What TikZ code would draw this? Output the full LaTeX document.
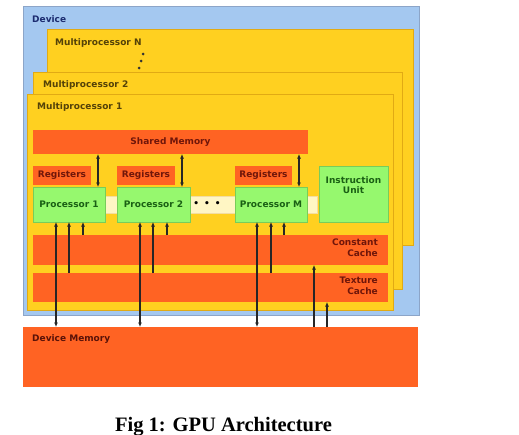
\documentclass[tikz,border=0pt]{standalone}
\usepackage{fontspec}
\setmainfont{Liberation Serif}
\newfontfamily\boxfont{DejaVu Sans}
\usetikzlibrary{positioning,arrows.meta}

\definecolor{devblue}{RGB}{164,200,240}
\definecolor{devline}{RGB}{140,165,200}
\definecolor{mpyellow}{RGB}{255,208,32}
\definecolor{mpline}{RGB}{225,170,20}
\definecolor{memorange}{RGB}{255,99,35}
\definecolor{procgreen}{RGB}{150,248,110}
\definecolor{procline}{RGB}{120,205,90}
\definecolor{striplight}{RGB}{255,246,196}
\definecolor{devtext}{RGB}{28,44,112}
\definecolor{mptext}{RGB}{84,66,8}
\definecolor{memtext}{RGB}{112,22,10}
\definecolor{proctext}{RGB}{26,96,20}

\tikzset{
  lbl/.style={inner sep=0pt, font=\boxfont\bfseries\fontsize{9}{10.5}\selectfont},
  area/.style={lbl, anchor=north west, outer sep=0pt, line width=0.6pt},
  devarea/.style={area, fill=devblue, draw=devline},
  mparea/.style={area, fill=mpyellow, draw=mpline},
  memarea/.style={area, fill=memorange, text=memtext},
  procarea/.style={area, fill=procgreen, draw=procline, text=proctext},
  link/.style={line width=1.1pt, draw=black!85, >={Latex[length=4.5pt,width=4pt]}}
}

\begin{document}
\begin{tikzpicture}[x=1pt,y=-1pt]
\useasboundingbox (0,0) rectangle (519,434);

\node[devarea, minimum width=396pt, minimum height=309pt] (dev) at (23,6) {};
\node[lbl, text=devtext, below right=9pt and 9pt of dev.north west] (devlbl) {Device};

\node[mparea, minimum width=366pt, minimum height=216pt] (mpn) at (47,29) {};
\node[lbl, text=mptext, below right=9pt and 8pt of mpn.north west] (mpnlbl) {Multiprocessor N};
\fill[black!80] (143,54) circle (1.5pt) (141,61) circle (1.5pt) (139,68) circle (1.5pt);

\node[mparea, minimum width=369pt, minimum height=217pt] (mptwo) at (33,72) {};
\node[lbl, text=mptext, below right=8pt and 10pt of mptwo.north west] (mptwolbl) {Multiprocessor 2};

\node[mparea, minimum width=366pt, minimum height=216pt] (mpone) at (27,94) {};
\node[lbl, text=mptext, below right=8pt and 10pt of mpone.north west] (mponelbl) {Multiprocessor 1};

\node[memarea, minimum width=275pt, minimum height=24pt] (shm) at (33,130) {Shared Memory};

\node[memarea, minimum width=58pt, minimum height=19pt] (reg1) at (33,166) {Registers};
\node[memarea, minimum width=58pt, minimum height=19pt] (reg2) at (117,166) {Registers};
\node[memarea, minimum width=57pt, minimum height=19pt] (regm) at (235,166) {Registers};

\node[area, fill=striplight, draw=mpline!40, minimum width=215pt, minimum height=17pt] (strip) at (102,196) {};
\node[lbl] (dots) at (207,204) {\textbullet\hspace{5pt}\textbullet\hspace{5pt}\textbullet};

\node[procarea, minimum width=72pt, minimum height=35pt] (proc1) at (33,187) {Processor 1};
\node[procarea, minimum width=73pt, minimum height=35pt] (proc2) at (117,187) {Processor 2};
\node[procarea, minimum width=72pt, minimum height=35pt] (procm) at (235,187) {Processor M};

\node[procarea, minimum width=69pt, minimum height=56pt] (instr) at (319,166) {};
\node[lbl, text=proctext, align=center, below=10pt of instr.north] (instrlbl) {Instruction\\Unit};

\node[memarea, minimum width=355pt, minimum height=30pt] (ccache) at (33,235) {};
\node[lbl, text=memtext, align=right, below left=4pt and 10pt of ccache.north east] (cclbl) {Constant\\Cache};

\node[memarea, minimum width=355pt, minimum height=29pt] (tcache) at (33,273) {};
\node[lbl, text=memtext, align=right, below left=4pt and 10pt of tcache.north east] (tclbl) {Texture\\Cache};

\node[memarea, minimum width=395pt, minimum height=60pt] (dmem) at (23,327) {};
\node[lbl, text=memtext!80!black, below right=7pt and 9pt of dmem.north west] (dmemlbl) {Device Memory};

\draw[link,<->] ([xshift=-7pt]proc1.north east) -- ([xshift=-7pt]proc1.north east |- shm.south);
\draw[link,<->] ([xshift=-8pt]proc2.north east) -- ([xshift=-8pt]proc2.north east |- shm.south);
\draw[link,<->] ([xshift=-8pt]procm.north east) -- ([xshift=-8pt]procm.north east |- shm.south);

\draw[link,<->] ([xshift=23pt]proc1.south west) -- ([xshift=23pt]proc1.south west |- dmem.north);
\draw[link,->] ([xshift=36pt]proc1.south west |- tcache.north) -- ([xshift=36pt]proc1.south west);
\draw[link,->] ([xshift=50pt]proc1.south west |- ccache.north) -- ([xshift=50pt]proc1.south west);

\draw[link,<->] ([xshift=23pt]proc2.south west) -- ([xshift=23pt]proc2.south west |- dmem.north);
\draw[link,->] ([xshift=36pt]proc2.south west |- tcache.north) -- ([xshift=36pt]proc2.south west);
\draw[link,->] ([xshift=50pt]proc2.south west |- ccache.north) -- ([xshift=50pt]proc2.south west);

\draw[link,<->] ([xshift=22pt]procm.south west) -- ([xshift=22pt]procm.south west |- dmem.north);
\draw[link,->] ([xshift=36pt]procm.south west |- tcache.north) -- ([xshift=36pt]procm.south west);
\draw[link,->] ([xshift=49pt]procm.south west |- ccache.north) -- ([xshift=49pt]procm.south west);

\draw[link,->] ([xshift=-104pt]dmem.north east) -- ([xshift=-104pt]dmem.north east |- ccache.south);
\draw[link,->] ([xshift=-91pt]dmem.north east) -- ([xshift=-91pt]dmem.north east |- tcache.south);

\node[font=\bfseries\fontsize{20.5}{23}\selectfont, anchor=base, inner sep=0pt] (caption) at (223.5,431) {Fig 1: GPU Architecture};
\end{tikzpicture}
\end{document}
